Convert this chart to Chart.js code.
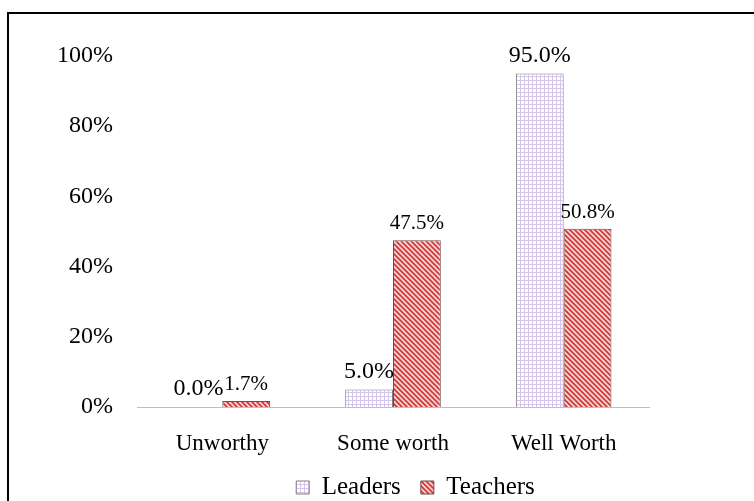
<!DOCTYPE html>
<html>
<head>
<meta charset="utf-8">
<script src="https://cdn.jsdelivr.net/npm/chart.js@4.4.1/dist/chart.umd.min.js"></script>
<style>
  html, body { margin: 0; padding: 0; background: #fff; }
  #wrap { position: relative; width: 754px; height: 501px; }
  #frame { position: absolute; left: 7px; top: 12px; right: -10px; bottom: -10px;
           border-top: 2px solid #000; border-left: 2px solid #000; pointer-events: none; }
  canvas { position: absolute; left: 0; top: 0; }
</style>
</head>
<body>
<div id="wrap">
  <canvas id="chart" width="754" height="501"></canvas>
  <div id="frame"></div>
</div>
<script>
const categories = ['Unworthy', 'Some worth', 'Well Worth'];
const leaders = [0.0, 5.0, 95.0];
const teachers = [1.7, 47.5, 50.8];
const yTicks = [0, 20, 40, 60, 80, 100];

const SERIF = '"Liberation Serif", "Times New Roman", serif';

// little tile patterns like the Excel fills
function gridPattern() {
  const c = document.createElement('canvas');
  c.width = 4; c.height = 4;
  const g = c.getContext('2d');
  g.fillStyle = '#ffffff';
  g.fillRect(0, 0, 4, 4);
  g.fillStyle = '#d5c4ec';
  g.fillRect(0, 0, 4, 1);
  g.fillRect(0, 0, 1, 4);
  return g.createPattern(c, 'repeat');
}

function stripePattern() {
  const s = 5;
  const c = document.createElement('canvas');
  c.width = s; c.height = s;
  const g = c.getContext('2d');
  g.fillStyle = '#f6d7d7';
  g.fillRect(0, 0, s, s);
  g.strokeStyle = '#d23a3a';
  g.lineWidth = 1.8;
  g.beginPath();
  g.moveTo(-1, -1); g.lineTo(s + 1, s + 1);
  g.moveTo(-s - 1, -1); g.lineTo(1, s + 1);
  g.moveTo(s - 1, -1); g.lineTo(2 * s + 1, s + 1);
  g.stroke();
  return g.createPattern(c, 'repeat');
}

const labelSizes = [24, 21];

const barLabels = {
  id: 'barLabels',
  afterDatasetsDraw(chart) {
    const ctx = chart.ctx;
    ctx.save();
    ctx.fillStyle = '#000';
    ctx.textAlign = 'center';
    ctx.textBaseline = 'bottom';
    chart.data.datasets.forEach((ds, i) => {
      ctx.font = labelSizes[i] + 'px ' + SERIF;
      chart.getDatasetMeta(i).data.forEach((bar, j) => {
        ctx.fillText(ds.data[j].toFixed(1) + '%', bar.x, bar.y - 6);
      });
    });
    ctx.restore();
  }
};

// legend: short box for layout, then moved right of centre and lower like the original
const legendShift = {
  id: 'legendShift',
  beforeLayout(chart) {
    const lg = chart.legend;
    if (lg && !lg._fixedFit) {
      const fit = lg.fit.bind(lg);
      lg.fit = function () { fit(); this.height = 30; };
      lg._fixedFit = true;
    }
  },
  afterLayout(chart) {
    const lg = chart.legend;
    lg.left += 91;
    lg.right += 91;
    lg.top = 455;
    lg.bottom = 501;
    lg.height = 46;
  }
};

Chart.defaults.color = '#000';
Chart.defaults.font.family = SERIF;

new Chart(document.getElementById('chart'), {
  type: 'bar',
  data: {
    labels: categories,
    datasets: [
      {
        label: 'Leaders',
        data: leaders,
        backgroundColor: gridPattern(),
        borderColor: '#7f7f7f',
        borderWidth: 1,
        categoryPercentage: 0.56,
        barPercentage: 1.0
      },
      {
        label: 'Teachers',
        data: teachers,
        backgroundColor: stripePattern(),
        borderColor: '#6b4a4a',
        borderWidth: 1,
        categoryPercentage: 0.56,
        barPercentage: 1.0
      }
    ]
  },
  options: {
    responsive: false,
    animation: false,
    layout: { padding: { left: 0, right: 105, top: 56, bottom: 0 } },
    plugins: {
      tooltip: { enabled: false },
      legend: {
        position: 'bottom',
        labels: {
          boxWidth: 13,
          boxHeight: 13,
          padding: 20,
          font: { size: 25, family: SERIF },
          color: '#000'
        }
      }
    },
    scales: {
      x: {
        grid: { display: false, drawTicks: false },
        border: { display: true, color: '#bfbfbf', width: 1 },
        ticks: { font: { size: 23 }, padding: 23, color: '#000' },
        afterFit: s => { s.height = 64; }
      },
      y: {
        min: 0,
        max: 100,
        afterBuildTicks: s => { s.ticks = yTicks.map(v => ({ value: v })); },
        grid: { display: false, drawTicks: false },
        border: { display: false },
        ticks: { font: { size: 24 }, padding: 24, color: '#000', callback: v => v + '%' },
        afterFit: s => { s.width = 137; }
      }
    }
  },
  plugins: [barLabels, legendShift]
});
</script>
</body>
</html>
